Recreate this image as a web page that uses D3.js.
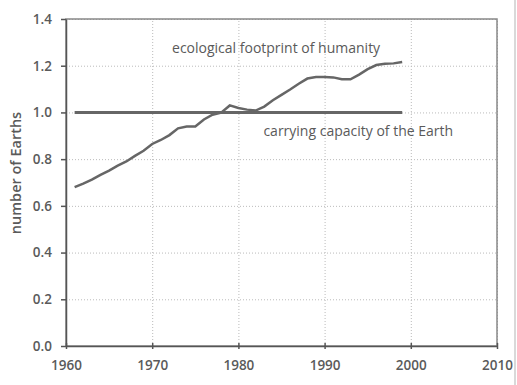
<!DOCTYPE html>
<meta charset="utf-8">
<style>
body { margin: 0; background: #fff; }
text { font-family: "Open Sans", "DejaVu Sans", sans-serif; fill: #5a5a5a; }
.axis text { font-size: 13.5px; font-weight: 600; }
.axis path, .axis line { stroke: #555; stroke-width: 1.5px; }
.grid line { stroke: #bbb; stroke-dasharray: 1,2; }
.grid path { display: none; }
.footprint { fill: none; stroke: #666; stroke-width: 2.5px; }
.capacity { fill: none; stroke: #666; stroke-width: 3px; }
.lbl { font-size: 14px; }
</style>
<body>
<script src="https://d3js.org/d3.v7.min.js"></script>
<script>

// footprint, number of Earths, 1961-1999
var years = d3.range(1961, 2000);
var footprint = [0.68, 0.695, 0.712, 0.733, 0.751, 0.772, 0.79, 0.814, 0.836, 0.865,
                 0.882, 0.903, 0.932, 0.94, 0.94, 0.97, 0.99, 0.999, 1.03, 1.019,
                 1.012, 1.008, 1.025, 1.052, 1.075, 1.098, 1.123, 1.145, 1.152, 1.152,
                 1.15, 1.142, 1.142, 1.162, 1.185, 1.203, 1.208, 1.21, 1.216];
var capacity = [[1961, 1.0], [1999, 1.0]];
var xTicks = [1960, 1970, 1980, 1990, 2000, 2010];
var yTicks = [0, 0.2, 0.4, 0.6, 0.8, 1.0, 1.2, 1.4];

var margin = {top: 19, right: 20, bottom: 39, left: 66},
    width = 517 - margin.left - margin.right,
    height = 385 - margin.top - margin.bottom;

var svg = d3.select("body").append("svg")
    .attr("width", 517)
    .attr("height", 385);

// scan edge on the right
svg.append("line")
    .attr("x1", 515).attr("x2", 515).attr("y1", 0).attr("y2", 385)
    .attr("stroke", "#ccc").attr("stroke-width", 1.5);

var g = svg.append("g")
    .attr("transform", "translate(" + margin.left + "," + margin.top + ")");

var x = d3.scaleLinear().domain([1960, 2010]).range([0, width]);
var y = d3.scaleLinear().domain([0, 1.4]).range([height, 0]);

// grid
g.append("g").attr("class", "grid")
    .call(d3.axisLeft(y).tickValues(yTicks).tickSize(-width).tickFormat(""));
g.append("g").attr("class", "grid")
    .attr("transform", "translate(0," + height + ")")
    .call(d3.axisBottom(x).tickValues(xTicks).tickSize(-height).tickFormat(""));

// frame top/right
g.append("rect")
    .attr("width", width).attr("height", height)
    .attr("fill", "none").attr("stroke", "#888").attr("stroke-width", 1.5);

// axes
g.append("g").attr("class", "axis")
    .attr("transform", "translate(0," + height + ")")
    .call(d3.axisBottom(x).tickValues(xTicks).tickFormat(d3.format("d")).tickSize(5).tickSizeOuter(0).tickPadding(9))
    .selectAll(".tick line").attr("y1", -3).attr("y2", 3);

g.append("g").attr("class", "axis")
    .call(d3.axisLeft(y).tickValues(yTicks).tickFormat(d3.format(".1f")).tickSize(5).tickSizeOuter(0).tickPadding(9));

// lines
g.append("path")
    .datum(capacity)
    .attr("class", "capacity")
    .attr("d", d3.line().x(function(d) { return x(d[0]); }).y(function(d) { return y(d[1]); }));

g.append("path")
    .datum(years.map(function(yr, i) { return [yr, footprint[i]]; }))
    .attr("class", "footprint")
    .attr("d", d3.line().x(function(d) { return x(d[0]); }).y(function(d) { return y(d[1]); }));

// labels
g.append("text").attr("class", "lbl")
    .attr("x", x(1972.3)).attr("y", y(1.255))
    .text("ecological footprint of humanity");
g.append("text").attr("class", "lbl")
    .attr("x", x(1982.9)).attr("y", y(0.9))
    .text("carrying capacity of the Earth");

svg.append("text").attr("class", "lbl")
    .attr("transform", "translate(21,173) rotate(-90)")
    .attr("text-anchor", "middle")
    .style("font-weight", 600)
    .style("font-size", "14.5px")
    .text("number of Earths");

</script>
</body>
